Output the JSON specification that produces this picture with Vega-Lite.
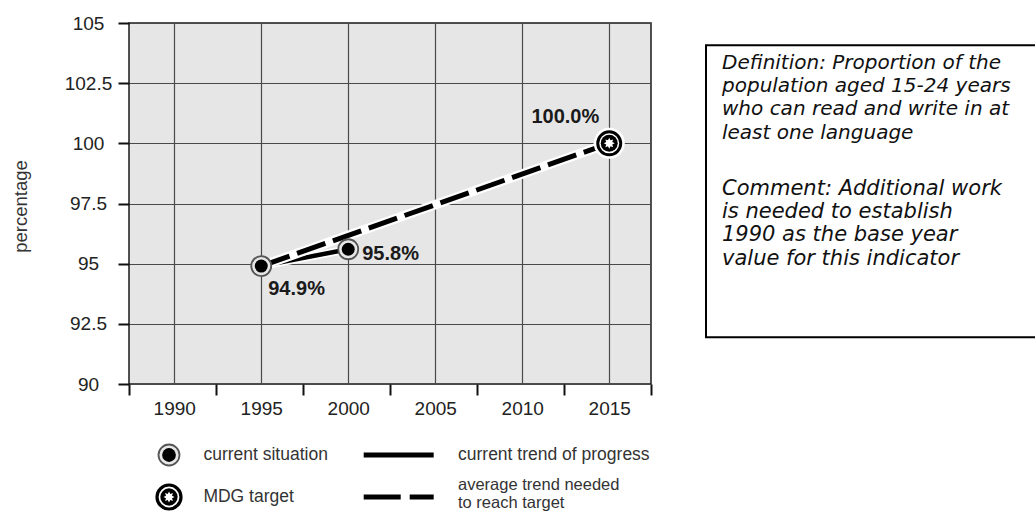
{
  "$schema": "https://vega.github.io/schema/vega-lite/v6.json",
  "background": "white",
  "padding": {"left": 10, "top": 13, "right": 0, "bottom": 0},
  "config": {"font": "Liberation Sans", "view": {"stroke": null}},
  "datasets": {
    "points": [
      {"year": 1995, "value": 94.9, "type": "current situation", "label": "94.9%"},
      {"year": 2000, "value": 95.6, "type": "current situation", "label": "95.8%"},
      {"year": 2015, "value": 100.0, "type": "MDG target", "label": "100.0%"}
    ],
    "trends": [
      {"series": "current trend of progress", "year": 1995, "value": 94.9},
      {"series": "current trend of progress", "year": 2000, "value": 95.6},
      {"series": "average trend needed to reach target", "year": 1995, "value": 94.9},
      {"series": "average trend needed to reach target", "year": 2015, "value": 100.0}
    ],
    "legend": [
      {"item": "current situation", "col": "markers", "row": 1, "lines": ["current situation"]},
      {"item": "MDG target", "col": "markers", "row": 2, "lines": ["MDG target"]},
      {"item": "current trend of progress", "col": "lines", "row": 1, "lines": ["current trend of progress"]},
      {"item": "average trend needed to reach target", "col": "lines", "row": 2, "lines": ["average trend needed", "to reach target"]}
    ],
    "notes": [
      {"para": "Definition", "lines": ["Definition: Proportion of the", "population aged 15-24 years", "who can read and write in at", "least one language"]},
      {"para": "Comment", "lines": ["Comment: Additional work", "is needed to establish", "1990 as the base year", "value for this indicator"]}
    ]
  },
  "hconcat": [
    {
      "bounds": "flush",
      "spacing": 50,
      "vconcat": [
        {
          "width": 522,
          "height": 361,
          "view": {"fill": "#e6e6e6", "stroke": "#1a1a1a", "strokeWidth": 1.5},
          "encoding": {
            "x": {
              "field": "year", "type": "quantitative",
              "scale": {"domain": [1987.4, 2017.4], "nice": false, "zero": false},
              "axis": {
                "title": null,
                "values": [1987.4, 1990, 1992.4, 1995, 1997.4, 2000, 2002.4, 2005, 2007.4, 2010, 2012.4, 2015, 2017.4],
                "format": "d",
                "labelExpr": "datum.value % 5 === 0 ? datum.label : ''",
                "labelOverlap": false,
                "labelFlush": false,
                "labelAngle": 0,
                "labelFontSize": 19,
                "labelColor": "#222",
                "labelPadding": 4,
                "domain": false,
                "ticks": true,
                "tickSize": 11,
                "tickWidth": 2,
                "tickColor": "#111",
                "tickOpacity": {"condition": {"test": "datum.value % 5 === 0", "value": 0}, "value": 1},
                "grid": true,
                "gridColor": "#4a4a4a",
                "gridWidth": 1.2,
                "gridOpacity": {"condition": {"test": "datum.value % 5 === 0", "value": 1}, "value": 0}
              }
            },
            "y": {
              "field": "value", "type": "quantitative",
              "scale": {"domain": [90, 105], "nice": false, "zero": false},
              "axis": {
                "values": [90, 92.5, 95, 97.5, 100, 102.5, 105],
                "labelExpr": "'' + datum.value",
                "labelAlign": "center",
                "labelBaseline": "middle",
                "labelPadding": 30,
                "labelOverlap": false,
                "labelFlush": false,
                "labelFontSize": 19,
                "labelColor": "#222",
                "domain": false,
                "tickSize": 11,
                "tickWidth": 2,
                "tickColor": "#111",
                "grid": true,
                "gridColor": "#4a4a4a",
                "gridWidth": 1.2,
                "title": "percentage",
                "titleFontSize": 18.5,
                "titleFontWeight": "normal",
                "titleColor": "#333",
                "titleAngle": -90,
                "titleAlign": "center",
                "titleBaseline": "middle",
                "titleX": -109,
                "titleY": 183
              }
            }
          },
          "layer": [
            {
              "data": {"name": "trends"},
              "transform": [{"filter": "datum.series === 'current trend of progress'"}],
              "mark": {"type": "line", "color": "white", "strokeWidth": 8, "strokeCap": "butt"}
            },
            {
              "data": {"name": "trends"},
              "transform": [{"filter": "datum.series === 'current trend of progress'"}],
              "mark": {"type": "line", "color": "black", "strokeWidth": 4.5, "strokeCap": "butt"}
            },
            {
              "data": {"name": "trends"},
              "transform": [{"filter": "datum.series === 'average trend needed to reach target'"}],
              "mark": {"type": "line", "color": "white", "strokeWidth": 9.5, "strokeCap": "butt"}
            },
            {
              "data": {"name": "trends"},
              "transform": [{"filter": "datum.series === 'average trend needed to reach target'"}],
              "mark": {"type": "line", "color": "black", "strokeWidth": 5, "strokeCap": "butt", "strokeDash": [30, 8]}
            },
            {
              "data": {"name": "points"},
              "transform": [{"filter": "datum.type === 'current situation'"}],
              "mark": {"type": "point", "shape": "circle", "filled": true, "size": 400, "fill": "#e8e8e8", "stroke": "#555", "strokeWidth": 1.8, "opacity": 1}
            },
            {
              "data": {"name": "points"},
              "transform": [{"filter": "datum.type === 'current situation'"}],
              "mark": {"type": "point", "shape": "circle", "filled": true, "size": 169, "fill": "black", "strokeWidth": 0, "opacity": 1}
            },
            {
              "data": {"name": "points"},
              "transform": [{"filter": "datum.type === 'MDG target'"}],
              "mark": {"type": "point", "shape": "circle", "filled": true, "size": 961, "fill": "white", "strokeWidth": 0, "opacity": 1}
            },
            {
              "data": {"name": "points"},
              "transform": [{"filter": "datum.type === 'MDG target'"}],
              "mark": {"type": "point", "shape": "circle", "filled": true, "size": 529, "fill": "white", "stroke": "black", "strokeWidth": 3, "opacity": 1}
            },
            {
              "data": {"name": "points"},
              "transform": [{"filter": "datum.type === 'MDG target'"}],
              "mark": {"type": "point", "shape": "circle", "filled": true, "size": 289, "fill": "black", "strokeWidth": 0, "opacity": 1}
            },
            {
              "data": {"name": "points"},
              "transform": [{"filter": "datum.type === 'MDG target'"}],
              "mark": {"type": "point", "shape": "M0,-1L0.23,-0.55L0.71,-0.71L0.55,-0.23L1,0L0.55,0.23L0.71,0.71L0.23,0.55L0,1L-0.23,0.55L-0.71,0.71L-0.55,0.23L-1,0L-0.55,-0.23L-0.71,-0.71L-0.23,-0.55Z", "filled": true, "size": 121, "fill": "white", "strokeWidth": 0, "opacity": 1}
            },
            {
              "data": {"name": "points"},
              "transform": [{"filter": "datum.year === 1995"}],
              "mark": {"type": "text", "align": "left", "baseline": "middle", "dx": 7, "dy": 23, "fontSize": 20, "fontWeight": "bold", "color": "#1a1a1a"},
              "encoding": {"text": {"field": "label"}}
            },
            {
              "data": {"name": "points"},
              "transform": [{"filter": "datum.year === 2000"}],
              "mark": {"type": "text", "align": "left", "baseline": "middle", "dx": 14, "dy": 5, "fontSize": 20, "fontWeight": "bold", "color": "#1a1a1a"},
              "encoding": {"text": {"field": "label"}}
            },
            {
              "data": {"name": "points"},
              "transform": [{"filter": "datum.year === 2015"}],
              "mark": {"type": "text", "align": "right", "baseline": "middle", "dx": -10, "dy": -26, "fontSize": 20, "fontWeight": "bold", "color": "#1a1a1a"},
              "encoding": {"text": {"field": "label"}}
            }
          ]
        },
        {
          "width": 522,
          "height": 84,
          "view": {"fill": "white", "stroke": null},
          "data": {"name": "legend"},
          "encoding": {
            "x": {"field": "col", "type": "nominal", "scale": {"type": "point", "domain": ["markers", "lines"], "range": [40, 269.7], "padding": 0}, "axis": null},
            "y": {"field": "row", "type": "ordinal", "scale": {"type": "point", "domain": [1, 2], "padding": 0.5}, "axis": null}
          },
          "layer": [
            {
              "transform": [{"filter": "datum.item === 'current situation'"}],
              "mark": {"type": "point", "shape": "circle", "filled": true, "size": 440, "fill": "#e8e8e8", "stroke": "#555", "strokeWidth": 1.8, "opacity": 1}
            },
            {
              "transform": [{"filter": "datum.item === 'current situation'"}],
              "mark": {"type": "point", "shape": "circle", "filled": true, "size": 190, "fill": "black", "strokeWidth": 0, "opacity": 1}
            },
            {
              "transform": [{"filter": "datum.item === 'MDG target'"}],
              "mark": {"type": "point", "shape": "circle", "filled": true, "size": 576, "fill": "white", "stroke": "black", "strokeWidth": 3.2, "opacity": 1}
            },
            {
              "transform": [{"filter": "datum.item === 'MDG target'"}],
              "mark": {"type": "point", "shape": "circle", "filled": true, "size": 300, "fill": "black", "strokeWidth": 0, "opacity": 1}
            },
            {
              "transform": [{"filter": "datum.item === 'MDG target'"}],
              "mark": {"type": "point", "shape": "M0,-1L0.23,-0.55L0.71,-0.71L0.55,-0.23L1,0L0.55,0.23L0.71,0.71L0.23,0.55L0,1L-0.23,0.55L-0.71,0.71L-0.55,0.23L-1,0L-0.55,-0.23L-0.71,-0.71L-0.23,-0.55Z", "filled": true, "size": 121, "fill": "white", "strokeWidth": 0, "opacity": 1}
            },
            {
              "transform": [{"filter": "datum.col === 'markers'"}],
              "mark": {"type": "text", "align": "left", "baseline": "middle", "dx": 34.4, "fontSize": 17.5, "color": "#333"},
              "encoding": {"text": {"field": "item"}}
            },
            {
              "transform": [{"filter": "datum.item === 'current trend of progress'"}],
              "mark": {"type": "point", "shape": "M-1,0L1,0", "filled": false, "size": 4900, "stroke": "black", "strokeWidth": 5, "strokeCap": "butt", "opacity": 1}
            },
            {
              "transform": [{"filter": "datum.item === 'average trend needed to reach target'"}],
              "mark": {"type": "point", "shape": "M-1,0L1,0", "filled": false, "size": 4900, "stroke": "black", "strokeWidth": 5, "strokeCap": "butt", "strokeDash": [37, 9], "opacity": 1}
            },
            {
              "transform": [{"filter": "datum.item === 'current trend of progress'"}],
              "mark": {"type": "text", "align": "left", "baseline": "middle", "dx": 59.3, "fontSize": 17.5, "color": "#333"},
              "encoding": {"text": {"field": "lines"}}
            },
            {
              "transform": [{"filter": "datum.item === 'average trend needed to reach target'"}],
              "mark": {"type": "text", "align": "left", "baseline": "middle", "dx": 59.3, "dy": -12, "lineHeight": 18, "fontSize": 16.5, "color": "#333"},
              "encoding": {"text": {"field": "lines"}}
            }
          ]
        }
      ]
    },
    {
      "bounds": "flush",
      "spacing": 21.3,
      "vconcat": [
        {
          "width": 345,
          "height": 1,
          "data": {"values": []},
          "mark": {"type": "text"}
        },
        {
          "width": 345,
          "height": 292,
          "view": {"fill": "white", "stroke": "#000", "strokeWidth": 2},
          "data": {"name": "notes"},
          "encoding": {
            "x": {"value": 0},
            "y": {"field": "para", "type": "nominal", "scale": {"type": "point", "domain": ["Definition", "Comment"], "range": [23.5, 149.5], "padding": 0}, "axis": null},
            "text": {"field": "lines"}
          },
          "layer": [
            {
              "transform": [{"filter": "datum.para === 'Definition'"}],
              "mark": {"type": "text", "align": "left", "baseline": "alphabetic", "dx": 16, "font": "DejaVu Sans", "fontSize": 20, "fontStyle": "italic", "lineHeight": 23.3, "color": "#111"}
            },
            {
              "transform": [{"filter": "datum.para === 'Comment'"}],
              "mark": {"type": "text", "align": "left", "baseline": "alphabetic", "dx": 16, "font": "DejaVu Sans", "fontSize": 21, "fontStyle": "italic", "lineHeight": 23.3, "color": "#111"}
            }
          ]
        }
      ]
    }
  ],
  "spacing": 52
}
